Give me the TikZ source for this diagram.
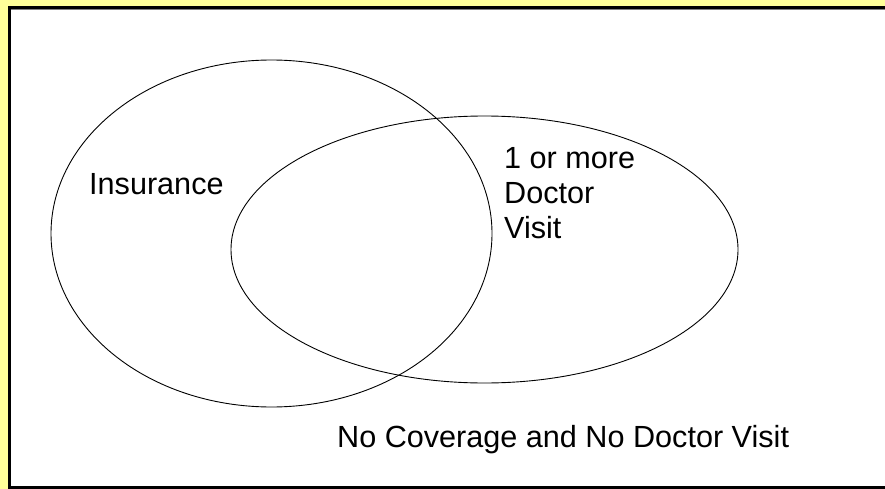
\documentclass[tikz,border=0pt]{standalone}
\usepackage{fontspec}
\setmainfont{Liberation Sans}
\usepackage{xcolor}
\definecolor{paleyellow}{HTML}{FFFF99}
\usetikzlibrary{shapes.geometric}

\begin{document}
\begin{tikzpicture}[
  x=1pt, y=-1pt,
  font=\fontsize{30.6}{35}\selectfont,
  set/.style={draw, ellipse, inner sep=0pt, line width=0.9pt},
  lbl/.style={inner sep=0pt, anchor=base west, align=left},
  frameline/.style={line width=3pt}
]
\useasboundingbox (0,0) rectangle (885,489);
% page frame
\fill[paleyellow] (0,0) rectangle (885,489);
\fill[white] (9,7.5) rectangle (885,489);
\coordinate (tl) at (9,7.5);
\coordinate (tr) at (885,7.5);
\coordinate (bl) at (9,487.5);
\coordinate (br) at (885,487.5);
\draw[frameline] (tr) -- (tl) -- (bl) -- (br);
\draw[gray, line width=1pt] (10.5,9.5) -- (885,9.5);

% the two sets
\node[set, minimum width=441, minimum height=347] (insurance) at (271.5,233.5) {};
\node[set, minimum width=507, minimum height=267] (visit) at (484.5,249.5) {};

% labels
\node[lbl] (inslbl) at (89,194) {Insurance};
\node[lbl] (visitlbl) at (504,238) {1 or more\\Doctor\\Visit};
\node[lbl] (nonelbl) at (337,447) {No Coverage and No Doctor Visit};
\end{tikzpicture}
\end{document}
